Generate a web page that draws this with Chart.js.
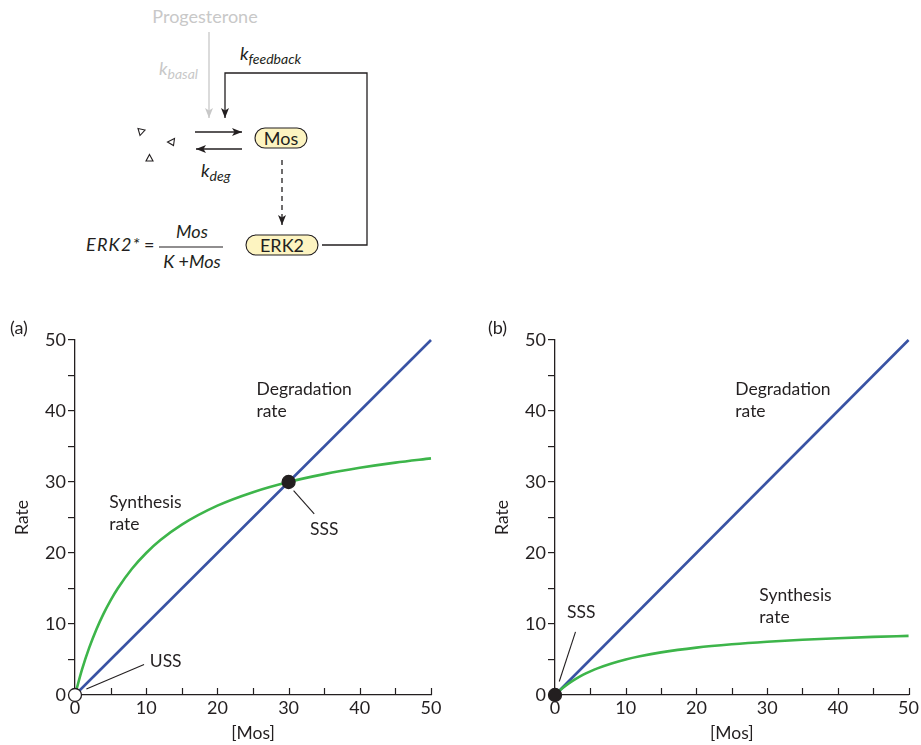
<!DOCTYPE html>
<html>
<head>
<meta charset="utf-8">
<script src="https://cdn.jsdelivr.net/npm/chart.js@4/dist/chart.umd.min.js"></script>
<style>
  html, body { margin: 0; padding: 0; background: #fff; }
  body { width: 921px; height: 745px; position: relative; overflow: hidden; font-family: Lato, sans-serif; }
  #scheme { position: absolute; left: 0; top: 0; }
  .panel { position: absolute; }
</style>
</head>
<body>
<!-- Reaction scheme: Mos synthesis/degradation with ERK2 positive feedback -->
<svg id="scheme" width="460" height="290" xmlns="http://www.w3.org/2000/svg" font-family="Lato, sans-serif">
  <defs>
    <marker id="headBlack" viewBox="0 0 10 8" refX="10" refY="4" markerWidth="10" markerHeight="8" markerUnits="userSpaceOnUse" orient="auto">
      <path d="M0,0 L10,4 L0,8 L2.5,4 Z" fill="#231f20"/>
    </marker>
    <marker id="headGray" viewBox="0 0 10 8" refX="10" refY="4" markerWidth="10" markerHeight="8" markerUnits="userSpaceOnUse" orient="auto">
      <path d="M0,0 L10,4 L0,8 L2.5,4 Z" fill="#c8c8c8"/>
    </marker>
  </defs>

  <text x="205" y="23" font-size="18" fill="#c8c8c8" text-anchor="middle">Progesterone</text>
  <line x1="209" y1="32" x2="209" y2="118" stroke="#c8c8c8" stroke-width="1.3" marker-end="url(#headGray)"/>
  <text x="159" y="75" font-size="18" font-style="italic" fill="#c8c8c8">k<tspan font-size="14" dy="4">basal</tspan></text>

  <text x="240" y="60" font-size="18" font-style="italic" fill="#231f20">k<tspan font-size="14" dy="4">feedback</tspan></text>
  <polyline points="322,245 367,245 367,73 225,73 225,118" fill="none" stroke="#231f20" stroke-width="1.3" marker-end="url(#headBlack)"/>

  <line x1="195" y1="132" x2="242" y2="132" stroke="#231f20" stroke-width="1.3" marker-end="url(#headBlack)"/>
  <line x1="242" y1="149" x2="196" y2="149" stroke="#231f20" stroke-width="1.3" marker-end="url(#headBlack)"/>
  <text x="201" y="177" font-size="18" font-style="italic" fill="#231f20">k<tspan font-size="14" dy="4">deg</tspan></text>

  <!-- degradation products -->
  <polygon points="138,128.5 145,130 140,135.5" fill="none" stroke="#231f20" stroke-width="1.1"/>
  <polygon points="174.5,138.5 173.5,145.5 167.5,142" fill="none" stroke="#231f20" stroke-width="1.1"/>
  <polygon points="149.5,154.5 153,161 146,161" fill="none" stroke="#231f20" stroke-width="1.1"/>

  <rect x="255" y="128" width="52" height="20" rx="10" ry="10" fill="#fdf4c1" stroke="#231f20" stroke-width="1.1"/>
  <text x="281" y="144.5" font-size="18" fill="#231f20" text-anchor="middle">Mos</text>

  <line x1="282" y1="160" x2="282" y2="225" stroke="#231f20" stroke-width="1.3" stroke-dasharray="5,4" marker-end="url(#headBlack)"/>

  <rect x="246" y="235" width="72" height="20" rx="10" ry="10" fill="#fdf4c1" stroke="#231f20" stroke-width="1.1"/>
  <text x="282" y="251.5" font-size="18" fill="#231f20" text-anchor="middle">ERK2</text>

  <text x="86" y="251" font-size="18" font-style="italic" fill="#231f20" letter-spacing="1.2">ERK2*</text>
  <text x="144" y="251" font-size="18" fill="#231f20">=</text>
  <text x="192" y="238" font-size="18" font-style="italic" fill="#231f20" text-anchor="middle">Mos</text>
  <line x1="159" y1="247" x2="223" y2="247" stroke="#231f20" stroke-width="1.1"/>
  <text x="192" y="268" font-size="18" font-style="italic" fill="#231f20" text-anchor="middle">K <tspan font-style="normal">+</tspan>Mos</text>
</svg>

<div class="panel" style="left:0px; top:300px; width:450px; height:445px;"><canvas id="chartA" width="450" height="445"></canvas></div>
<div class="panel" style="left:480px; top:300px; width:441px; height:445px;"><canvas id="chartB" width="441" height="445"></canvas></div>

<script>
// [Mos] sample points for the synthesis curves
const mosLevels = [0, 1, 2, 3, 4, 5, 6, 8, 10, 12, 15, 20, 25, 30, 35, 40, 45, 50];
// Synthesis rate with strong feedback (panel a)
const synthesisA = [0, 3.64, 6.67, 9.23, 11.43, 13.33, 15.0, 17.78, 20.0, 21.82, 24.0, 26.67, 28.57, 30.0, 31.11, 32.0, 32.73, 33.33];
// Synthesis rate with weak feedback (panel b)
const synthesisB = [0, 0.91, 1.67, 2.31, 2.86, 3.33, 3.75, 4.44, 5.0, 5.45, 6.0, 6.67, 7.14, 7.5, 7.78, 8.0, 8.18, 8.33];
// Degradation rate (first order in Mos)
const degradationMos = [0, 50];
const degradationRate = [0, 50];
// Steady states: [Mos, rate, stable?]
const steadyA = [[0, 0, false], [30, 30, true]];
const steadyB = [[0, 0, true]];
// Tick values
const xTicks = [0, 5, 10, 15, 20, 25, 30, 35, 40, 45, 50];
const yTicks = [0, 5, 10, 15, 20, 25, 30, 35, 40, 45, 50];

// Text annotations in data coordinates
const notesA = [
  { lines: ['Degradation', 'rate'], at: [25.5, 43.0] },
  { lines: ['Synthesis', 'rate'], at: [4.8, 27.2] },
  { lines: ['SSS'], at: [33.0, 23.3] },
  { lines: ['USS'], at: [10.5, 4.8] }
];
const leadersA = [
  [[1.6, 0.85], [9.7, 4.3]],
  [[30.7, 28.8], [33.6, 25.5]]
];
const notesB = [
  { lines: ['Degradation', 'rate'], at: [25.5, 43.0] },
  { lines: ['Synthesis', 'rate'], at: [28.9, 14.0] },
  { lines: ['SSS'], at: [1.7, 11.6] }
];
const leadersB = [
  [[0.6, 1.9], [2.9, 8.9]]
];

const INK = '#231f20';
const BLUE = '#3953a4';
const GREEN = '#3db54a';
const FONT = 'Lato, sans-serif';

// Draws panel letter, inward x tick marks, annotation text and leader lines
const panelNotes = {
  id: 'panelNotes',
  afterDraw(chart, args, opts) {
    const ctx = chart.ctx;
    const xs = chart.scales.x, ys = chart.scales.y;
    ctx.save();
    ctx.strokeStyle = INK;
    ctx.lineWidth = 1.2;
    // inward ticks along the x axis
    const base = ys.getPixelForValue(0);
    xTicks.forEach(v => {
      if (v === 0) return;
      const px = Math.round(xs.getPixelForValue(v)) + 0.5;
      ctx.beginPath();
      ctx.moveTo(px, base);
      ctx.lineTo(px, base - 7);
      ctx.stroke();
    });
    // leader lines
    ctx.lineWidth = 1.1;
    opts.leaders.forEach(([a, b]) => {
      ctx.beginPath();
      ctx.moveTo(xs.getPixelForValue(a[0]), ys.getPixelForValue(a[1]));
      ctx.lineTo(xs.getPixelForValue(b[0]), ys.getPixelForValue(b[1]));
      ctx.stroke();
    });
    // annotation text
    ctx.fillStyle = INK;
    ctx.font = '17.5px ' + FONT;
    ctx.textAlign = 'left';
    ctx.textBaseline = 'middle';
    opts.notes.forEach(n => {
      const px = xs.getPixelForValue(n.at[0]);
      const py = ys.getPixelForValue(n.at[1]);
      n.lines.forEach((t, i) => ctx.fillText(t, px, py + i * 22));
    });
    // panel letter
    ctx.font = '18px ' + FONT;
    ctx.fillText(opts.letter, opts.letterX, 28);
    ctx.restore();
  }
};

function makeChart(id, synth, steady, notes, leaders, letter, letterX, padRight) {
  const pts = steady.map(s => ({ x: s[0], y: s[1] }));
  return new Chart(document.getElementById(id), {
    type: 'line',
    data: {
      datasets: [
        {
          label: 'Steady states',
          data: pts,
          showLine: false,
          pointRadius: 6.5,
          pointBorderWidth: 1.3,
          pointBorderColor: INK,
          pointBackgroundColor: steady.map(s => s[2] ? INK : '#ffffff'),
          clip: false
        },
        {
          label: 'Synthesis rate',
          data: mosLevels.map((m, i) => ({ x: m, y: synth[i] })),
          borderColor: GREEN,
          borderWidth: 2.6,
          pointRadius: 0,
          cubicInterpolationMode: 'monotone',
          clip: false
        },
        {
          label: 'Degradation rate',
          data: degradationMos.map((m, i) => ({ x: m, y: degradationRate[i] })),
          borderColor: BLUE,
          borderWidth: 2.6,
          pointRadius: 0,
          clip: false
        }
      ]
    },
    options: {
      responsive: false,
      animation: false,
      events: [],
      layout: { padding: { left: 0, right: padRight, top: 40, bottom: 0 } },
      plugins: {
        legend: { display: false },
        tooltip: { enabled: false },
        panelNotes: { notes, leaders, letter, letterX }
      },
      scales: {
        x: {
          type: 'linear',
          min: 0, max: 50,
          afterFit: s => { s.height = 50; },
          afterBuildTicks: s => { s.ticks = xTicks.map(v => ({ value: v })); },
          grid: { display: false, drawTicks: false },
          border: { display: true, color: INK, width: 1.3 },
          ticks: {
            autoSkip: false, maxRotation: 0, padding: 2,
            color: INK, font: { family: FONT, size: 18 },
            callback: v => (v % 10 === 0 ? String(v) : '')
          },
          title: {
            display: true, text: '[Mos]', color: INK,
            font: { family: FONT, size: 17.5 }, padding: { top: 0, bottom: 1 }
          }
        },
        y: {
          type: 'linear',
          min: 0, max: 50,
          afterFit: s => { s.width = 75; },
          afterBuildTicks: s => { s.ticks = yTicks.map(v => ({ value: v })); },
          grid: { display: true, drawOnChartArea: false, drawTicks: true, tickLength: 7, color: INK, lineWidth: 1.2 },
          border: { display: true, color: INK, width: 1.3 },
          ticks: {
            autoSkip: false, padding: 2,
            color: INK, font: { family: FONT, size: 18 },
            callback: v => (v % 10 === 0 ? String(v) : '')
          },
          title: {
            display: true, text: 'Rate', color: INK,
            font: { family: FONT, size: 17.5 }, padding: { top: 12, bottom: 0 }
          }
        }
      }
    },
    plugins: [panelNotes]
  });
}

makeChart('chartA', synthesisA, steadyA, notesA, leadersA, '(a)', 10, 19);
makeChart('chartB', synthesisB, steadyB, notesB, leadersB, '(b)', 8, 10);
</script>
</body>
</html>
